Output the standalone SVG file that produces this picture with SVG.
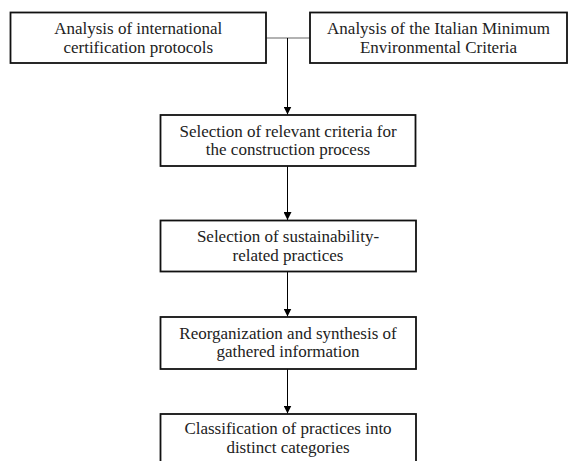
<svg xmlns="http://www.w3.org/2000/svg" width="568" height="461" viewBox="0 0 568 461">
<defs>
<marker id="ah" viewBox="0 0 10 10" refX="10" refY="5" markerWidth="8" markerHeight="8" markerUnits="userSpaceOnUse" orient="auto">
<path d="M0,0 L10,5 L0,10 z" fill="#000"/>
</marker>
<style>
.box{fill:#fff;stroke:#111;stroke-width:1.8}
.t{font-family:'Liberation Serif','Times New Roman','DejaVu Serif',serif;font-size:17px;fill:#222;text-anchor:middle}
.c{stroke:#000;stroke-width:1;fill:none}
.h{stroke:#666;stroke-width:1.2;fill:none}
</style>
</defs>
<rect width="568" height="461" fill="#fff"/>
<g id="connectors">
<line class="h" x1="266" y1="38" x2="310" y2="38"/>
<line class="c" x1="287.5" y1="38" x2="287.5" y2="114.5" marker-end="url(#ah)"/>
<line class="c" x1="287.5" y1="166" x2="287.5" y2="220" marker-end="url(#ah)"/>
<line class="c" x1="287.5" y1="271.5" x2="287.5" y2="316.5" marker-end="url(#ah)"/>
<line class="c" x1="287.5" y1="369" x2="287.5" y2="413.5" marker-end="url(#ah)"/>
</g>
<g id="n1">
<rect class="box" x="10.5" y="12.5" width="255.5" height="50.5"/>
<text class="t" x="138.25" y="34">Analysis of international</text>
<text class="t" x="138.25" y="52.6">certification protocols</text>
</g>
<g id="n2">
<rect class="box" x="310" y="12.5" width="257" height="50.5"/>
<text class="t" x="438.5" y="34">Analysis of the Italian Minimum</text>
<text class="t" x="438.5" y="52.6">Environmental Criteria</text>
</g>
<g id="n3">
<rect class="box" x="160.5" y="115" width="255" height="51"/>
<text class="t" x="288" y="136.6">Selection of relevant criteria for</text>
<text class="t" x="288" y="155.2">the construction process</text>
</g>
<g id="n4">
<rect class="box" x="160.5" y="220.5" width="255.5" height="51"/>
<text class="t" x="288" y="242">Selection of sustainability-</text>
<text class="t" x="288" y="260.6">related practices</text>
</g>
<g id="n5">
<rect class="box" x="160.5" y="317" width="255.5" height="52"/>
<text class="t" x="288" y="338.6">Reorganization and synthesis of</text>
<text class="t" x="288" y="357.2">gathered information</text>
</g>
<g id="n6">
<rect class="box" x="160.5" y="414" width="255.5" height="52"/>
<text class="t" x="288" y="434.2">Classification of practices into</text>
<text class="t" x="288" y="452.8">distinct categories</text>
</g>
</svg>
